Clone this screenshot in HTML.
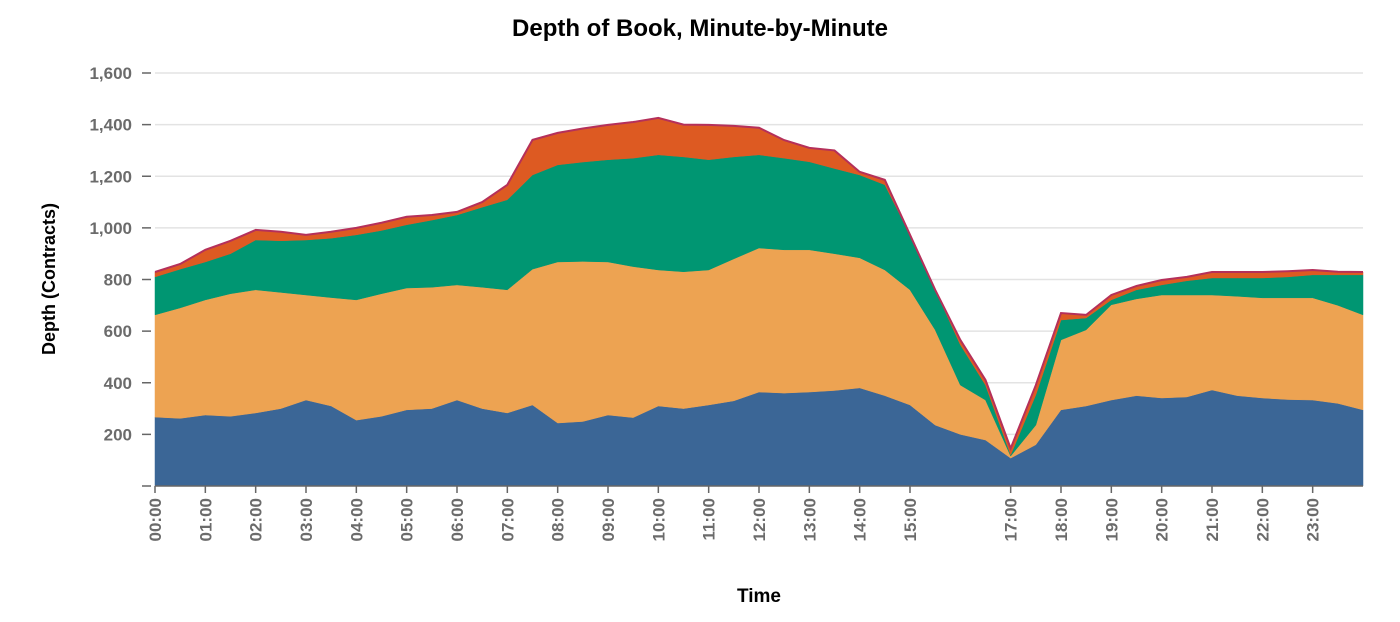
<!DOCTYPE html>
<html><head><meta charset="utf-8"><style>
html,body{margin:0;padding:0;background:#fff;}
svg text{font-family:"Liberation Sans",Arial,sans-serif;}
</style></head><body>
<svg id="chart" width="1400" height="617">
<text x="700" y="36" text-anchor="middle" font-size="24" font-weight="bold" fill="#000">Depth of Book, Minute-by-Minute</text>
<text transform="translate(55,279) rotate(-90)" text-anchor="middle" font-size="18" font-weight="bold" fill="#000">Depth (Contracts)</text>
<text x="759" y="602" text-anchor="middle" font-size="19" font-weight="bold" fill="#000">Time</text>
<g id="grid"></g><g id="areas"></g><g id="axes"></g>
</svg>
<script>
const hours = [];
for (let i = 0; i <= 48; i++) hours.push(i / 2);
const blueSeries = [267,262,275,270,283,300,333,310,255,270,295,300,333,300,283,314,244,250,275,265,310,300,314,330,364,360,364,370,380,350,314,236,200,178,108,160,295,310,333,350,341,345,372,350,341,335,333,320,295];
const orangeSeries = [396,428,446,475,477,450,407,420,466,475,472,470,446,470,477,526,624,620,593,585,527,530,523,550,558,555,551,530,504,487,446,369,191,155,8,76,271,295,369,375,399,395,368,385,388,394,396,380,368];
const greenSeries = [147,150,147,155,193,200,213,230,252,245,245,260,271,310,349,365,376,385,396,420,446,445,427,395,361,355,341,330,321,330,213,155,156,58,4,117,77,46,19,35,39,55,66,71,77,81,89,118,155];
const redSeries = [19,20,47,50,39,35,20,25,27,30,31,20,12,20,58,136,124,130,135,140,143,125,135,120,105,70,54,70,12,19,0,0,19,20,26,38,27,12,19,15,19,15,23,23,23,22,19,12,11];
const yTicks = [0,200,400,600,800,1000,1200,1400,1600];
const xTickLabels = ["00:00","01:00","02:00","03:00","04:00","05:00","06:00","07:00","08:00","09:00","10:00","11:00","12:00","13:00","14:00","15:00","17:00","18:00","19:00","20:00","21:00","22:00","23:00"];

const X0=155, X1=1363, Y0=486, Y1=73;
const xs = h => X0 + (X1-X0)*h/24;
const ys = v => Y0 - (Y0-Y1)*v/1600;
const NS="http://www.w3.org/2000/svg";
function mk(tag, attrs, parent){const e=document.createElementNS(NS,tag);for(const k in attrs)e.setAttribute(k,attrs[k]);parent.appendChild(e);return e;}
const grid=document.getElementById('grid'), areas=document.getElementById('areas'), axes=document.getElementById('axes');

yTicks.forEach(v=>{
  if(v>0){const g=mk('line',{x1:X0,x2:X1,y1:ys(v),y2:ys(v),stroke:'#e3e3e3','stroke-width':1.5},grid);
  
  }
  const t=mk('line',{x1:142,x2:151,y1:ys(v),y2:ys(v),stroke:'#666','stroke-width':1.5},axes);
  
  
  if(v>0){const l=mk('text',{x:132,y:ys(v)+6,'text-anchor':'end','font-size':17,'font-weight':'bold',fill:'#6b6b6b'},axes);
  l.textContent=v.toLocaleString('en-US');
  
  }
});

const layers=[blueSeries,orangeSeries,greenSeries,redSeries];
const colors=['#3b6696','#eda352','#009672','#dd5a22'];
const names=['layer-blue','layer-orange','layer-green','layer-red'];
let base=hours.map(()=>0);
layers.forEach((ser,li)=>{
  const top=base.map((b,i)=>b+ser[i]);
  let d='M'+hours.map((h,i)=>xs(h)+','+ys(top[i])).join('L');
  for(let i=hours.length-1;i>=0;i--) d+='L'+xs(hours[i])+','+ys(base[i]);
  d+='Z';
  const p=mk('path',{d:d,fill:colors[li],stroke:colors[li],'stroke-width':0.5},areas);
  
  
  base=top;
});
const line=mk('path',{d:'M'+hours.map((h,i)=>xs(h)+','+ys(base[i])).join('L'),fill:'none',stroke:'#b5305a','stroke-width':2},areas);



const ax=mk('line',{x1:X0,x2:X1,y1:Y0,y2:Y0,stroke:'#666','stroke-width':1.5},axes);


xTickLabels.forEach(lab=>{
  const h=parseInt(lab,10);
  const x=xs(h);
  const t=mk('line',{x1:x,x2:x,y1:Y0,y2:Y0+7,stroke:'#666','stroke-width':1.5},axes);
  
  
  const l=mk('text',{transform:'translate('+(x+6)+','+(Y0+12)+') rotate(-90)','text-anchor':'end','font-size':17,'font-weight':'bold',fill:'#6b6b6b'},axes);
  l.textContent=lab;
  
  
});
</script>
</body></html>
